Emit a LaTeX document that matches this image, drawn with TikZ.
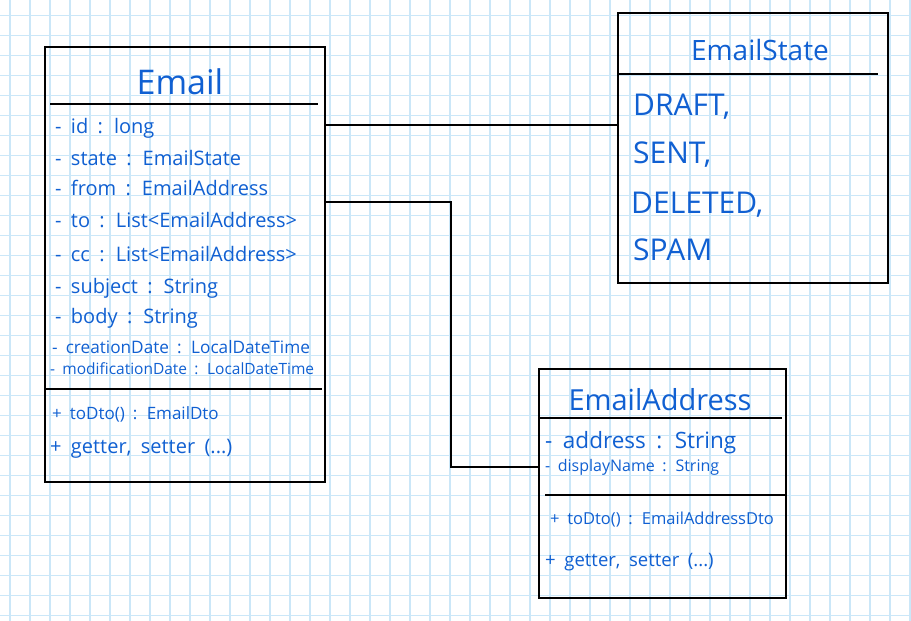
\documentclass[tikz,border=0pt]{standalone}
\usepackage{fontspec}
\setmainfont[WordSpace=1.8]{Open Sans}
\usepackage{xcolor}
\usepackage{tikz}
\usetikzlibrary{calc}
\definecolor{pen}{HTML}{1060D2}
\definecolor{paper}{HTML}{CBE7F8}
\tikzset{
  x=1pt, y=-1pt,
  gridline/.style={draw=paper,line width=1.3pt},
  cls/.style={draw=black,line width=2.4pt,inner sep=0pt},
  rule/.style={draw=black,line width=2pt},
  link/.style={draw=black,line width=1.8pt},
  title/.style={text=pen,inner sep=0pt,font=\fontsize{#1pt}{#1pt}\selectfont},
  attr/.style={anchor=west,text=pen,inner sep=0pt,font=\fontsize{#1pt}{#1pt}\selectfont},
  attr/.default=20,
}
\begin{document}
\begin{tikzpicture}
  \useasboundingbox (0,0) rectangle (911,621);
  \fill[white] (0,0) rectangle (911,621);
  % squared paper
  \foreach \gx in {10,30,...,910} \draw[gridline] (\gx,0) -- (\gx,621);
  \foreach \gy in {15.5,35.5,...,615.5} \draw[gridline] (0,\gy) -- (911,\gy);

  % classes
  \node[cls,minimum width=280pt,minimum height=435pt] (email) at (185,264.5) {};
  \node[cls,minimum width=270pt,minimum height=270pt] (state) at (753,148) {};
  \node[cls,minimum width=247pt,minimum height=229pt] (address) at (662.5,483.5) {};
  \draw[rule] (50,104) -- (318,104);
  \draw[rule] (45,389) -- (322,389);
  \draw[rule] (618,74) -- (878,74);
  \draw[rule] (539,418) -- (782,418);
  \draw[rule] (545,495) -- (786,495);

  % Email
  \node[title=34] (emailT) at (180,82) {Email};
  \node[attr] (eId) at (55,128) {- id : long};
  \node[attr] (eState) at (55,158) {- state : EmailState};
  \node[attr] (eFrom) at (55,188) {- from : EmailAddress};
  \node[attr] (eTo) at (55,220) {- to : List<EmailAddress>};
  \node[attr] (eCc) at (55,254) {- cc : List<EmailAddress>};
  \node[attr] (eSubject) at (55,288) {- subject : String};
  \node[attr] (eBody) at (55,318) {- body : String};
  \node[attr=17.2] (eCreated) at (52,347) {- creationDate : LocalDateTime};
  \node[attr=15.5] (eModified) at (50,369) {- modificationDate : LocalDateTime};
  \node[attr=17] (eToDto) at (52,414) {+ toDto() : EmailDto};
  \node[attr=20] (eAccess) at (50,449) {+ getter, setter (...)};

  % EmailState
  \node[title=28] (stateT) at (760,50) {EmailState};
  \node[attr=30] (sDraft) at (633,107) {DRAFT,};
  \node[attr=30] (sSent) at (633,155) {SENT,};
  \node[attr=30] (sDeleted) at (631,205) {DELETED,};
  \node[attr=30] (sSpam) at (633,250) {SPAM};

  % EmailAddress
  \node[title=29] (addressT) at (660,400) {EmailAddress};
  \node[attr=22.5] (aAddress) at (545,443) {- address : String};
  \node[attr=16] (aName) at (545,467) {- displayName : String};
  \node[attr=16.5] (aToDto) at (550,520) {+ toDto() : EmailAddressDto};
  \node[attr=18.5] (aAccess) at (545,562) {+ getter, setter (...)};

  % associations
  \coordinate (tieA) at (0,125);
  \coordinate (bend) at (451,202);
  \coordinate (tieB) at (0,467);
  \draw[link] (email.east |- tieA) -- (state.west |- tieA);
  \draw[link] (email.east |- bend) -- (bend) |- (address.west |- tieB);
\end{tikzpicture}
\end{document}
